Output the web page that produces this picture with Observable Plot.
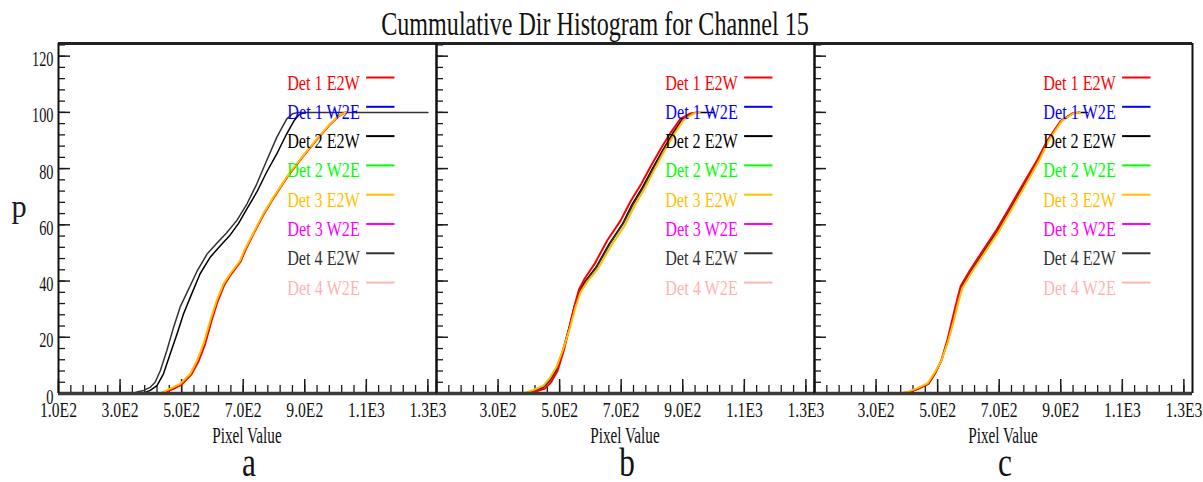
<!DOCTYPE html>
<html><head><meta charset="utf-8">
<script src="https://cdn.jsdelivr.net/npm/d3@7"></script>
<script src="https://cdn.jsdelivr.net/npm/@observablehq/plot@0.6"></script>
<style>
html,body{margin:0;padding:0;background:#fff;}
#root{position:relative;width:1203px;height:482px;overflow:hidden;background:#fff;}
#root svg{position:absolute;top:0;}
</style></head><body><div id="root"></div>
<script>
// ---------- text / categories ----------
const title = "Cummulative Dir Histogram for Channel 15";
const xLabel = "Pixel Value";
const yLabel = "p";
const panelLabels = ["a", "b", "c"];
const seriesNames = ["Det 1 E2W","Det 1 W2E","Det 2 E2W","Det 2 W2E","Det 3 E2W","Det 3 W2E","Det 4 E2W","Det 4 W2E"];
const seriesColors = ["#ff0000","#0000ff","#000000","#00ff00","#ffbf00","#ff00ff","#333333","#ffb3b3"];
const xTicks = [100, 300, 500, 700, 900, 1100, 1300];
const xTickLabels = ["1.0E2","3.0E2","5.0E2","7.0E2","9.0E2","1.1E3","1.3E3"];
const yTicks = [0, 20, 40, 60, 80, 100, 120];
const yTickLabels = ["0","20","40","60","80","100","120"];
const xMinorStep = 40, yMinorStep = 4;

// ---------- data: [pixel value, cumulative %] ----------
// panel a
const a_det1E2W = [[380,0],[440,0.3],[470,1.5],[500,3.2],[532,6.8],[555,11.5],[576,17.5],[597,25.8],[617,32.8],[638,38.5],[660,42.3],[692,47],[708,51.2],[731,56.3],[766,63.6],[799,69.6],[831,75],[853,78.5],[896,84.5],[940,90.4],[983,95.8],[1011,98.7],[1026,99.6],[1035,100]];
const a_det2E2W = [[360,0],[380,0.3],[398,1.1],[420,2.8],[441,7],[463,14.1],[485,21.2],[506,28.3],[528,34.2],[560,42.6],[593,48.5],[625,52.5],[655,56],[685,60.5],[712,65.7],[744,71.6],[776,78.7],[809,85.2],[841,92.3],[865,97],[882,99.2],[900,100]];
const a_det3E2W = [[366,0],[431,0],[463,1.7],[495,3.4],[528,7],[550,11.7],[571,17.7],[593,26],[614,33.1],[636,39],[658,42.6],[690,47.3],[706,51.5],[730,56.5],[765,63.9],[798,69.8],[830,75.1],[852,78.7],[895,84.6],[939,90.5],[982,95.9],[1010,98.8],[1025,99.6],[1035,100]];
const a_det4E2W = [[340,0],[355,0.5],[377,1.1],[398,2.2],[414,4],[431,8.2],[452,15.3],[474,23.6],[495,30.7],[517,35.8],[550,43.5],[582,49.5],[615,53.5],[645,57],[679,61.5],[712,67.4],[744,74.5],[776,82.8],[809,91.1],[841,97.6],[860,99.5],[880,100],[1300,100]];
// panel b
const b_det1E2W = [[395,0],[425,0.8],[452,1.8],[472,4],[493,8],[514,15.5],[534,24.5],[549,31.5],[563,37],[582,41],[613,46],[655,54.5],[698,61.5],[731,68.5],[765,74.5],[797,81],[830,87.3],[862,93],[893,97.8],[925,99.6],[945,100]];
const b_det2E2W = [[380,0],[391,0.1],[418,1.1],[445,2.2],[466,4.6],[488,8.2],[510,15.3],[531,23.6],[547,30.7],[564,36.6],[585,40.2],[618,44.9],[661,53.2],[704,60.3],[736,67.4],[769,73.3],[801,79.9],[834,86.4],[866,92.3],[898,97.6],[931,99.6],[950,100],[1001,100]];
const b_det3E2W = [[370,0],[392,0.4],[420,1.5],[447,2.8],[468,5.5],[490,9.5],[512,16],[534,23.5],[551,30.5],[568,36],[590,39.8],[624,44.3],[667,52.5],[710,59.5],[742,66.5],[774,72.5],[806,79.2],[838,85.8],[870,91.8],[902,97.2],[935,99.6],[955,100]];
const b_det4E2W = [[385,0],[420,1],[447,2.1],[468,4.5],[490,8.3],[512,15.4],[533,23.8],[549,30.8],[566,36.5],[588,40.3],[621,45],[664,53.3],[707,60.4],[739,67.3],[772,73.2],[804,79.8],[837,86.3],[869,92.2],[901,97.5],[934,99.6],[955,100]];
// panel c
const c_det1E2W = [[384,0],[406,0.5],[438,1.7],[470,3.4],[491,7],[512,11.8],[532,19.2],[548,26.5],[564,33.6],[575,38.2],[606,44],[649,51.2],[692,58.3],[736,66.6],[779,74.8],[823,83],[857,90.1],[900,97],[937,99.6],[958,100]];
const c_det2E2W = [[382,0],[404,0.5],[436,1.7],[469,3.4],[490,7],[512,11.7],[533,18.9],[550,26],[566,33.1],[577,37.8],[609,43.7],[652,50.8],[695,57.9],[739,66.2],[782,74.5],[825,82.8],[858,90],[901,97],[938,99.6],[960,100],[986,100]];
const c_det3E2W = [[380,0],[402,0.6],[434,1.9],[467,3.6],[489,7.2],[512,11.6],[534,18.6],[552,25.7],[568,32.8],[580,37.4],[612,43.3],[655,50.4],[698,57.5],[742,65.8],[785,74.1],[828,82.5],[860,89.8],[903,96.9],[940,99.6],[962,100]];
const c_det4E2W = [[383,0],[405,0.5],[437,1.7],[470,3.4],[491,7],[513,11.7],[534,18.9],[551,26],[567,33.1],[578,37.8],[610,43.7],[653,50.8],[696,57.9],[740,66.2],[783,74.5],[826,82.8],[859,90],[902,97],[939,99.6],[961,100]];

const panels = [
  {label: panelLabels[0], series: {"Det 2 E2W": a_det2E2W, "Det 4 E2W": a_det4E2W, "Det 1 E2W": a_det1E2W, "Det 3 E2W": a_det3E2W}},
  {label: panelLabels[1], series: {"Det 2 E2W": b_det2E2W, "Det 4 E2W": b_det4E2W, "Det 1 E2W": b_det1E2W, "Det 3 E2W": b_det3E2W}},
  {label: panelLabels[2], series: {"Det 2 E2W": c_det2E2W, "Det 4 E2W": c_det4E2W, "Det 1 E2W": c_det1E2W, "Det 3 E2W": c_det3E2W}}
];

// ---------- layout ----------
const W = 1203, H = 482;
const frameLefts = [58, 436, 814];
const plotW = 378;
const mTop = 43, mBottom = 89;
const plotH = H - mTop - mBottom;
const xDomain = [100, 1328], yDomain = [0, 124.5];
const xPerPx = (xDomain[1] - xDomain[0]) / plotW;
const yPerPx = (yDomain[1] - yDomain[0]) / plotH;
const xMinor = d3.range(xDomain[0], 1301, xMinorStep);
const yMinor = d3.range(0, 125, yMinorStep);
const FONT = "Liberation Serif, Times New Roman, serif";
const root = document.getElementById("root");

panels.forEach((panel, pi) => {
  const mLeft = pi === 0 ? 58 : 40;
  const mRight = 4;
  const rows = [];
  for (const [name, pts] of Object.entries(panel.series)) for (const [x, p] of pts) rows.push({series: name, x, p});
  const labelIdx = pi === 0 ? xTicks.map((d, i) => i) : xTicks.map((d, i) => i).slice(1);
  const legendY = (i) => 112.4 - i * 10.42;
  const ink = "#1a1a1a";
  const marks = [
    Plot.ruleX(xMinor, {x: d => d, y1: 0, y2: 8 * yPerPx, stroke: ink, strokeWidth: 1.3}),
    Plot.ruleX(xTicks, {x: d => d, y1: 0, y2: 14 * yPerPx, stroke: ink, strokeWidth: 1.5}),
    Plot.ruleY(yMinor, {y: d => d, x1: xDomain[0], x2: xDomain[0] + 7 * xPerPx, stroke: ink, strokeWidth: 1.3}),
    Plot.ruleY(yTicks, {y: d => d, x1: xDomain[0], x2: xDomain[0] + 12 * xPerPx, stroke: ink, strokeWidth: 1.5}),
    Plot.line(rows, {x: "x", y: "p", z: "series", stroke: "series", strokeWidth: d => (d.series === "Det 1 E2W" || d.series === "Det 3 E2W") ? 2 : 1.5, curve: "linear"}),
    Plot.ruleY(seriesNames, {y: (d, i) => legendY(i), x1: 1101, x2: 1193, stroke: d => d, strokeWidth: 2}),
    Plot.text(seriesNames, {x: 1079, y: (d, i) => legendY(i), text: d => d, fill: d => d, textAnchor: "end", dy: 5, fontSize: 22, fontFamily: FONT}),
    Plot.text(labelIdx, {x: i => xTicks[i], y: 0, text: i => xTickLabels[i], dy: 16, fontSize: 22, fontFamily: FONT, fill: "#111"}),
    Plot.ruleY([yDomain[1]], {stroke: "#222", strokeWidth: 3}),
    Plot.ruleY([0], {stroke: "#3a3a3a", strokeWidth: 3.5}),
    Plot.ruleX([xDomain[0]], {stroke: "#111", strokeWidth: 2}),
    Plot.ruleX([xDomain[1]], {stroke: "#111", strokeWidth: 2})
  ];
  if (pi === 0) {
    marks.push(Plot.text(yTicks.map((d, i) => i), {x: xDomain[0], y: i => yTicks[i], text: i => yTickLabels[i], textAnchor: "end", dx: -5, dy: 3, fontSize: 22, fontFamily: FONT, fill: "#111"}));
  }
  const chart = Plot.plot({
    width: mLeft + plotW + mRight,
    height: H,
    marginTop: mTop, marginBottom: mBottom, marginLeft: mLeft, marginRight: mRight,
    x: {domain: xDomain, axis: null},
    y: {domain: yDomain, axis: null},
    color: {domain: seriesNames, range: seriesColors},
    style: {background: "transparent", overflow: "visible", fontFamily: FONT},
    marks
  });
  chart.style.left = (frameLefts[pi] - mLeft) + "px";
  chart.style.maxWidth = "none";
  root.appendChild(chart);
});

// overlay texts
const ov = d3.select(root).append("svg").attr("width", W).attr("height", H)
  .style("left", "0px").style("font-family", FONT).style("pointer-events", "none");
ov.append("text").attr("x", 595).attr("y", 35).attr("text-anchor", "middle").attr("font-size", 33).attr("fill", "#111").attr("data-f", 0.73).text(title);
ov.append("text").attr("x", 19).attr("y", 217).attr("text-anchor", "middle").attr("font-size", 32).attr("fill", "#1a1a2a").attr("data-f", 0.95).text(yLabel);
panels.forEach((p, i) => {
  const cx = frameLefts[i] + plotW / 2;
  ov.append("text").attr("x", cx).attr("y", 443).attr("text-anchor", "middle").attr("font-size", 23).attr("fill", "#111").attr("data-f", 0.66).text(xLabel);
  ov.append("text").attr("x", cx + 2).attr("y", 476).attr("text-anchor", "middle").attr("font-size", 40).attr("fill", "#111").attr("data-f", 0.78).text(p.label);
});

// horizontally condensed lettering, like the original
root.querySelectorAll("text").forEach(t => {
  const s = t.textContent;
  let f = t.getAttribute("data-f");
  if (f == null) f = /^Det/.test(s) ? 0.735 : /E/.test(s) ? 0.71 : /^\d+$/.test(s) ? 0.65 : 1;
  f = +f;
  const len = t.getComputedTextLength();
  if (len > 0 && f !== 1) {
    t.setAttribute("textLength", (len * f).toFixed(1));
    t.setAttribute("lengthAdjust", "spacingAndGlyphs");
  }
});
</script></body></html>
